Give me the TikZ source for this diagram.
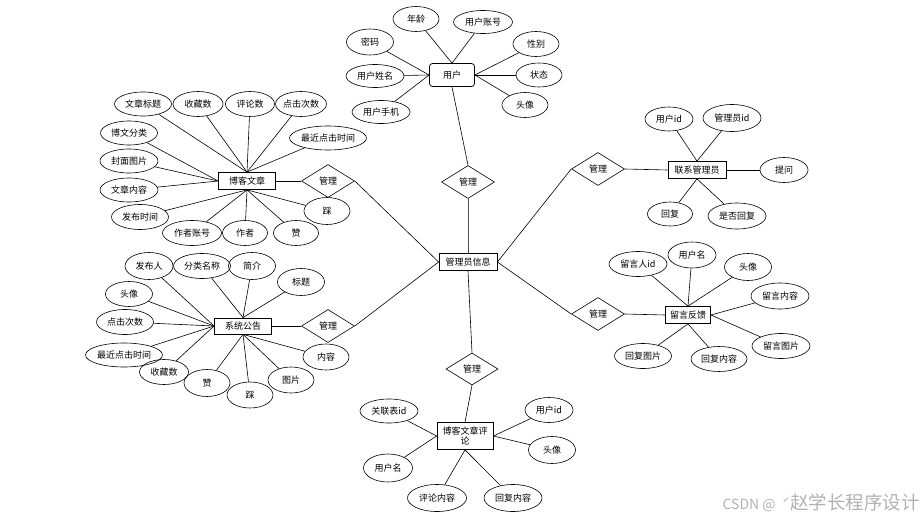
\documentclass[tikz,border=0pt]{standalone}
\usepackage{fontspec}
\setmainfont{Noto Sans CJK SC}
\usetikzlibrary{shapes.geometric}
\begin{document}
\begin{tikzpicture}[x=1pt,y=-1pt,
  every node/.style={font=\fontsize{9}{10.5}\selectfont},
  attr/.style={ellipse,draw,line width=0.6pt,inner sep=0pt},
  ent/.style={rectangle,draw,line width=0.8pt,inner sep=1pt},
  rel/.style={diamond,draw,line width=0.6pt,inner sep=0pt,minimum width=53pt,minimum height=33pt},
  link/.style={line width=0.6pt}]
\useasboundingbox[fill=white] (0,0) rectangle (924,519);

% ---------- 用户 ----------
\node[ent,rounded corners=3pt,minimum width=45pt,minimum height=23pt] (yh) at (452,75) {用户};
\node[attr,minimum width=46pt,minimum height=25pt] (yh_nl) at (416,19) {年龄};
\node[attr,minimum width=59pt,minimum height=23pt] (yh_zh) at (483,22) {用户账号};
\node[attr,minimum width=47pt,minimum height=26pt] (yh_mm) at (370,42) {密码};
\node[attr,minimum width=58pt,minimum height=23pt] (yh_xm) at (375,76) {用户姓名};
\node[attr,minimum width=58pt,minimum height=23pt] (yh_sj) at (381,112) {用户手机};
\node[attr,minimum width=46pt,minimum height=25pt] (yh_xb) at (536,44) {性别};
\node[attr,minimum width=46pt,minimum height=24pt] (yh_zt) at (539,75) {状态};
\node[attr,minimum width=46pt,minimum height=25pt] (yh_tx) at (525,105) {头像};
\draw[link] (yh_nl) -- (yh.north);
\draw[link] (yh_zh) -- (yh.north);
\draw[link] (yh_mm) -- (yh.west);
\draw[link] (yh_xm) -- (yh.west);
\draw[link] (yh_sj) -- (yh.west);
\draw[link] (yh_xb) -- (yh.east);
\draw[link] (yh_zt) -- (yh.east);
\draw[link] (yh_tx) -- (yh.east);

% ---------- 管理员信息 and relations ----------
\node[ent,minimum width=58pt,minimum height=17pt] (gly) at (468,262) {管理员信息};
\node[rel] (r1) at (468,182) {管理};
\node[rel] (r2) at (328,181) {管理};
\node[rel] (r3) at (328,326) {管理};
\node[rel] (r4) at (598,169) {管理};
\node[rel] (r5) at (598,314) {管理};
\node[rel,minimum width=52pt,minimum height=32pt] (r6) at (472,369) {管理};
\draw[link] (yh.south) -- (r1.north);
\draw[link,line width=1pt,black!70] (r1.south) -- (gly.north);
\draw[link] (r2.east) -- (gly.west);
\draw[link] (r3.east) -- (gly.west);
\draw[link] (r4.west) -- (gly.east);
\draw[link] (r5.west) -- (gly.east);
\draw[link] (gly.south) -- (r6.north);

% ---------- 博客文章 ----------
\node[ent,minimum width=57pt,minimum height=17pt] (bk) at (247,181) {博客文章};
\node[attr,minimum width=57pt,minimum height=24pt] (bk_bt) at (143,104) {文章标题};
\node[attr,minimum width=50pt,minimum height=25pt] (bk_sc) at (198,104) {收藏数};
\node[attr,minimum width=49pt,minimum height=25pt] (bk_pl) at (250,104) {评论数};
\node[attr,minimum width=50pt,minimum height=25pt] (bk_dj) at (301,104) {点击次数};
\node[attr,minimum width=77pt,minimum height=24pt] (bk_zj) at (328,138) {最近点击时间};
\node[attr,minimum width=57pt,minimum height=24pt] (bk_fl) at (129,133) {博文分类};
\node[attr,minimum width=58pt,minimum height=24pt] (bk_fm) at (129,161) {封面图片};
\node[attr,minimum width=58pt,minimum height=24pt] (bk_nr) at (129,190) {文章内容};
\node[attr,minimum width=57pt,minimum height=25pt] (bk_fb) at (140,217) {发布时间};
\node[attr,minimum width=59pt,minimum height=25pt] (bk_zh) at (192,233) {作者账号};
\node[attr,minimum width=45pt,minimum height=25pt] (bk_zz) at (245,233) {作者};
\node[attr,minimum width=45pt,minimum height=25pt] (bk_z) at (296,233) {赞};
\node[attr,minimum width=46pt,minimum height=27pt] (bk_c) at (327,211) {踩};
\draw[link] (bk.east) -- (r2.west);
\foreach \n in {bk_bt,bk_sc,bk_pl,bk_dj,bk_zj} \draw[link] (\n) -- (bk.north);
\foreach \n in {bk_fl,bk_fm,bk_nr} \draw[link] (\n) -- (bk.west);
\foreach \n in {bk_fb,bk_zh,bk_zz,bk_z,bk_c} \draw[link] (\n) -- (bk.south);

% ---------- 系统公告 ----------
\node[ent,minimum width=57pt,minimum height=16pt] (gg) at (243,326) {系统公告};
\node[attr,minimum width=48pt,minimum height=27pt] (gg_fbr) at (149,266) {发布人};
\node[attr,minimum width=57pt,minimum height=25pt] (gg_fl) at (202,266) {分类名称};
\node[attr,minimum width=47pt,minimum height=27pt] (gg_jj) at (252,266) {简介};
\node[attr,minimum width=47pt,minimum height=27pt] (gg_bt) at (301,282) {标题};
\node[attr,minimum width=47pt,minimum height=25pt] (gg_tx) at (129,294) {头像};
\node[attr,minimum width=57pt,minimum height=25pt] (gg_dj) at (125,322) {点击次数};
\node[attr,minimum width=77pt,minimum height=24pt] (gg_zj) at (124,355) {最近点击时间};
\node[attr,minimum width=49pt,minimum height=25pt] (gg_sc) at (164,372) {收藏数};
\node[attr,minimum width=46pt,minimum height=27pt] (gg_z) at (207,383) {赞};
\node[attr,minimum width=46pt,minimum height=26pt] (gg_c) at (250,395) {踩};
\node[attr,minimum width=46pt,minimum height=26pt] (gg_tp) at (291,380) {图片};
\node[attr,minimum width=46pt,minimum height=26pt] (gg_nr) at (326,357) {内容};
\draw[link] (gg.east) -- (r3.west);
\foreach \n in {gg_fl,gg_jj,gg_bt} \draw[link] (\n) -- (gg.north);
\foreach \n in {gg_fbr,gg_tx,gg_dj,gg_zj,gg_sc} \draw[link] (\n) -- (gg.west);
\foreach \n in {gg_z,gg_c,gg_tp,gg_nr} \draw[link] (\n) -- (gg.south);

% ---------- 联系管理员 ----------
\node[ent,minimum width=58pt,minimum height=17pt] (lx) at (697,170) {联系管理员};
\node[attr,minimum width=48pt,minimum height=24pt] (lx_yh) at (669,119) {用户id};
\node[attr,minimum width=58pt,minimum height=27pt] (lx_gl) at (732,118) {管理员id};
\node[attr,minimum width=48pt,minimum height=25pt] (lx_tw) at (784,170) {提问};
\node[attr,minimum width=45pt,minimum height=24pt] (lx_hf) at (670,214) {回复};
\node[attr,minimum width=58pt,minimum height=26pt] (lx_sf) at (737,216) {是否回复};
\draw[link] (r4.east) -- (lx.west);
\foreach \n in {lx_yh,lx_gl} \draw[link] (\n) -- (lx.north);
\draw[link] (lx_tw) -- (lx.east);
\foreach \n in {lx_hf,lx_sf} \draw[link] (\n) -- (lx.south);

% ---------- 留言反馈 ----------
\node[ent,minimum width=45pt,minimum height=17pt] (ly) at (688,315) {留言反馈};
\node[attr,minimum width=58pt,minimum height=25pt] (ly_lyr) at (638,264) {留言人id};
\node[attr,minimum width=48pt,minimum height=26pt] (ly_yhm) at (692,255) {用户名};
\node[attr,minimum width=47pt,minimum height=27pt] (ly_tx) at (748,267) {头像};
\node[attr,minimum width=58pt,minimum height=26pt] (ly_nr) at (780,296) {留言内容};
\node[attr,minimum width=58pt,minimum height=25pt] (ly_tp) at (781,346) {留言图片};
\node[attr,minimum width=57pt,minimum height=25pt] (ly_hftp) at (643,356) {回复图片};
\node[attr,minimum width=56pt,minimum height=25pt] (ly_hfnr) at (719,359) {回复内容};
\draw[link] (r5.east) -- (ly.west);
\foreach \n in {ly_lyr,ly_yhm,ly_tx} \draw[link] (\n) -- (ly.north);
\foreach \n in {ly_nr,ly_tp} \draw[link] (\n) -- (ly.east);
\foreach \n in {ly_hftp,ly_hfnr} \draw[link] (\n) -- (ly.south);

% ---------- 博客文章评论 ----------
\node[ent,minimum width=56pt,minimum height=27pt,align=center,inner sep=0pt,font=\fontsize{9}{10}\selectfont] (pl) at (465,436) {博客文章评\\论};
\node[attr,minimum width=58pt,minimum height=24pt] (pl_gl) at (389,411) {关联表id};
\node[attr,minimum width=48pt,minimum height=25pt] (pl_yh) at (549,410) {用户id};
\node[attr,minimum width=47pt,minimum height=27pt] (pl_tx) at (552,450) {头像};
\node[attr,minimum width=49pt,minimum height=28pt] (pl_yhm) at (388,468) {用户名};
\node[attr,minimum width=59pt,minimum height=27pt] (pl_plnr) at (437,498) {评论内容};
\node[attr,minimum width=58pt,minimum height=27pt] (pl_hfnr) at (513,498) {回复内容};
\draw[link] (r6.south) -- (pl.north);
\foreach \n in {pl_gl,pl_yhm} \draw[link] (\n) -- (pl.west);
\foreach \n in {pl_yh,pl_tx} \draw[link] (\n) -- (pl.east);
\foreach \n in {pl_plnr,pl_hfnr} \draw[link] (\n) -- (pl.south);

% ---------- watermark ----------
\node[anchor=east,text=black!30,inner sep=0pt,font=\fontsize{14}{15}\selectfont] (wm) at (920,503) {CSDN @ \ ˊ{\fontsize{18.5}{18.5}\selectfont 赵学长程序设计}};
\end{tikzpicture}
\end{document}
